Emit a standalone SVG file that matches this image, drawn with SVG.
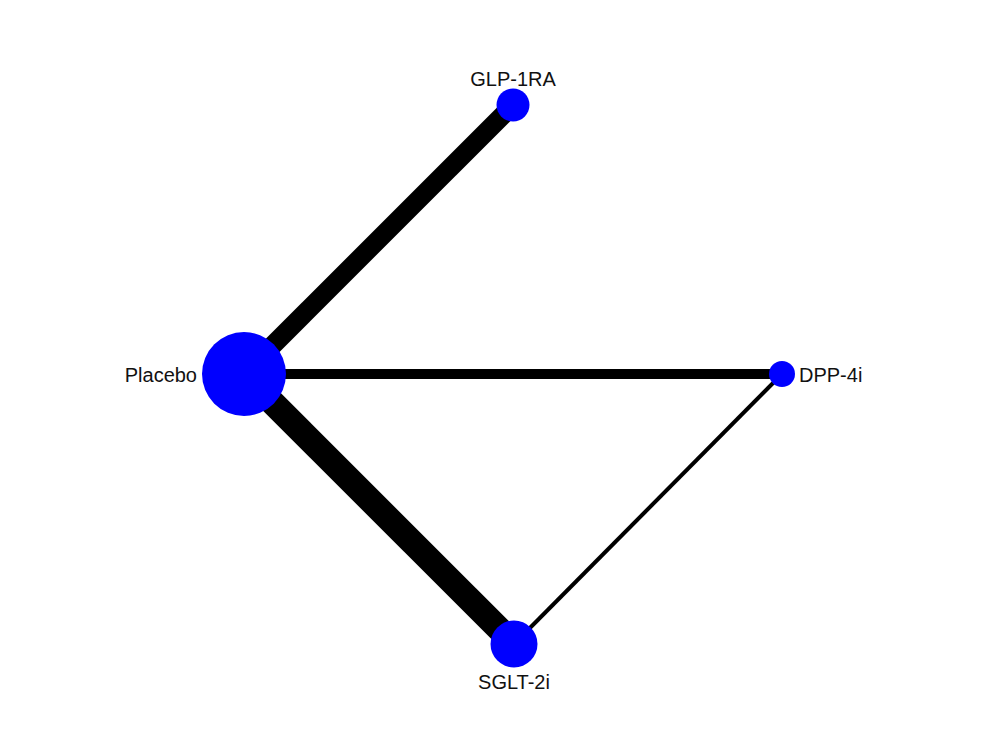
<svg xmlns="http://www.w3.org/2000/svg" width="1008" height="740" viewBox="0 0 1008 740">
<style>
.edge{stroke:#000;stroke-linecap:butt;fill:none}
.node{fill:#0000ff}
.lbl{font-family:"Liberation Sans",Arial,sans-serif;font-size:20px;fill:#111}
</style>
<rect width="1008" height="740" fill="#fff"/>
<g id="connectors">
<line class="edge" x1="244" y1="374" x2="513" y2="105" stroke-width="19"/>
<line class="edge" x1="244" y1="374" x2="514" y2="644" stroke-width="25"/>
<line class="edge" x1="244" y1="374" x2="782" y2="374" stroke-width="10"/>
<line class="edge" x1="782" y1="374" x2="514" y2="644" stroke-width="4"/>
</g>
<g id="node-placebo">
<circle class="node" cx="244" cy="374" r="42"/>
<text class="lbl" x="197" y="382" text-anchor="end">Placebo</text>
</g>
<g id="node-glp1ra">
<circle class="node" cx="513" cy="105" r="16.5"/>
<text class="lbl" x="513" y="86" text-anchor="middle">GLP-1RA</text>
</g>
<g id="node-dpp4i">
<circle class="node" cx="782" cy="374" r="13"/>
<text class="lbl" x="799" y="382">DPP-4i</text>
</g>
<g id="node-sglt2i">
<circle class="node" cx="514" cy="644" r="23.5"/>
<text class="lbl" x="514" y="689" text-anchor="middle">SGLT-2i</text>
</g>
</svg>
